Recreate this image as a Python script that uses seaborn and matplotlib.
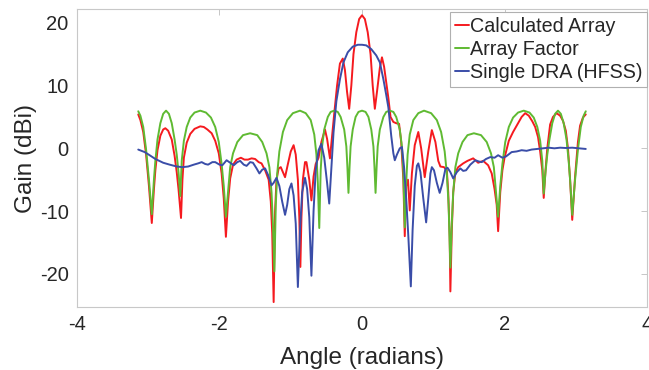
import numpy as np
import pandas as pd
import matplotlib
matplotlib.use("Agg")
import matplotlib.pyplot as plt
import seaborn as sns

# Array factor (green)
angle_af = [-3.14, -3.11, -3.07, -3.03, -2.99, -2.95,
            -2.92, -2.90, -2.87, -2.83, -2.79, -2.75, -2.71, -2.67, -2.63, -2.60, -2.575, -2.55,
            -2.53, -2.50, -2.46, -2.41, -2.35, -2.27, -2.19, -2.12, -2.06, -2.01, -1.97, -1.94, -1.91,
            -1.88, -1.85, -1.81, -1.75, -1.67, -1.57, -1.47, -1.40, -1.34, -1.30, -1.27, -1.25, -1.23,
            -1.21, -1.19, -1.16, -1.11, -1.05, -0.97, -0.87, -0.79, -0.72, -0.67, -0.64, -0.62, -0.60,
            -0.58, -0.56, -0.53, -0.48, -0.44, -0.39, -0.34, -0.30, -0.25, -0.22, -0.205, -0.19,
            -0.175, -0.16, -0.13, -0.09, -0.05, 0.0, 0.05, 0.09, 0.13, 0.16, 0.175, 0.19,
            0.205, 0.22, 0.25, 0.30, 0.34, 0.39, 0.44, 0.48, 0.53, 0.56, 0.58, 0.60,
            0.62, 0.64, 0.67, 0.72, 0.79, 0.87, 0.97, 1.05, 1.11, 1.16, 1.19, 1.215, 1.24,
            1.26, 1.28, 1.31, 1.35, 1.41, 1.48, 1.57, 1.67, 1.75, 1.81, 1.85, 1.88, 1.91,
            1.94, 1.97, 2.01, 2.06, 2.12, 2.19, 2.27, 2.35, 2.41, 2.46, 2.50, 2.53, 2.55,
            2.575, 2.60, 2.63, 2.67, 2.71, 2.75, 2.79, 2.83, 2.87, 2.90, 2.92, 2.95,
            2.99, 3.03, 3.07, 3.11, 3.14]
gain_af = [5.9, 5.2, 3.4, -0.2, -5.0, -10.5,
           -5.0, -2.0, 1.4, 4.0, 5.5, 6.0, 5.5, 4.0, 1.4, -1.0, -3.8, -7.6,
           -2.0, 1.2, 3.4, 4.9, 5.7, 6.0, 5.7, 4.9, 3.4, 1.0, -2.5, -6.0, -10.9,
           -7.0, -3.0, -0.8, 1.0, 2.1, 2.4, 2.1, 1.0, -0.8, -3.0, -7.0, -12.0, -19.6,
           -9.0, -4.0, -0.5, 2.6, 4.5, 5.6, 6.0, 5.6, 4.5, 2.2, -1.0, -5.5, -12.7,
           -3.5, 0.3, 3.0, 5.0, 5.8, 6.0, 5.8, 5.0, 3.0, 0.3, -3.0, -7.1,
           -3.0, 0.3, 3.0, 5.0, 5.8, 6.0, 5.8, 5.0, 3.0, 0.3, -3.0, -7.1,
           -3.0, 0.3, 3.0, 5.0, 5.8, 6.0, 5.8, 5.0, 3.0, 0.3, -3.5, -12.6,
           -5.5, -1.0, 2.2, 4.5, 5.6, 6.0, 5.6, 4.5, 2.6, -0.5, -4.0, -9.0, -19.0,
           -12.0, -7.0, -3.0, -0.8, 1.0, 2.1, 2.4, 2.1, 1.0, -0.8, -3.0, -7.0, -10.9,
           -6.0, -2.5, 1.0, 3.4, 4.9, 5.7, 6.0, 5.7, 4.9, 3.4, 1.2, -2.0, -7.2,
           -3.8, -1.0, 1.4, 4.0, 5.5, 6.0, 5.5, 4.0, 1.4, -2.0, -5.0, -10.6,
           -5.0, -0.2, 3.4, 5.2, 5.9]

# Calculated array (red)
angle_arr = [-3.14, -3.11, -3.07, -3.03, -2.99, -2.95,
             -2.92, -2.90, -2.87, -2.83, -2.79, -2.76, -2.72, -2.67, -2.63, -2.60, -2.575, -2.54,
             -2.52, -2.50, -2.46, -2.41, -2.35, -2.27, -2.22, -2.17, -2.11, -2.06, -2.01, -1.97, -1.94, -1.91,
             -1.88, -1.85, -1.81, -1.76, -1.70, -1.65, -1.60, -1.55, -1.50, -1.45, -1.41, -1.36, -1.31,
             -1.28, -1.26, -1.24,
             -1.22, -1.20, -1.17, -1.14, -1.11, -1.08, -1.04, -1.00, -0.96, -0.93, -0.90, -0.88, -0.865,
             -0.85, -0.83, -0.80, -0.78, -0.74, -0.71, -0.68, -0.65, -0.61, -0.57, -0.52, -0.49, -0.45,
             -0.42, -0.39, -0.35, -0.31, -0.27, -0.24, -0.21, -0.18,
             -0.15, -0.12, -0.08, -0.04, 0.0, 0.04, 0.08, 0.12, 0.15, 0.18,
             0.21, 0.25, 0.28, 0.31, 0.34, 0.37, 0.40, 0.44, 0.48, 0.52, 0.55, 0.58, 0.60,
             0.62, 0.645, 0.67, 0.70, 0.74, 0.79, 0.83, 0.88, 0.93, 0.98, 1.03, 1.07, 1.10, 1.15, 1.19,
             1.21, 1.23, 1.24, 1.26, 1.28, 1.31, 1.35, 1.42, 1.48, 1.56, 1.63, 1.70, 1.77, 1.82, 1.86,
             1.89, 1.91, 1.94, 1.97, 2.00, 2.06, 2.12, 2.18, 2.24, 2.29, 2.34, 2.39, 2.43, 2.47, 2.50,
             2.53, 2.55, 2.575, 2.60, 2.64, 2.68, 2.73, 2.78, 2.82, 2.86, 2.89, 2.92, 2.95,
             2.99, 3.03, 3.06, 3.10, 3.14]
gain_arr = [5.4, 4.5, 2.6, -1.0, -6.0, -11.9,
            -6.5, -3.5, -0.3, 2.0, 3.0, 3.2, 2.8, 1.4, -1.2, -3.8, -6.5, -11.1,
            -5.0, -1.5, 0.9, 2.3, 3.1, 3.5, 3.4, 3.0, 2.4, 1.2, -0.8, -4.0, -8.0, -14.1,
            -8.5, -4.8, -2.6, -1.8, -1.5, -1.8, -1.8, -1.6, -1.7, -2.2, -2.4, -3.5, -5.0,
            -8.5, -13.5, -24.5,
            -10.0, -5.0, -3.2, -3.0, -3.8, -4.6, -2.5, -0.5, 0.5, -1.0, -5.0, -11.0, -18.9,
            -11.0, -5.0, -2.2, -2.2, -5.0, -8.3, -4.5, -2.5, -1.5, 1.0, 3.0, 1.5, -1.6,
            2.0, 5.5, 10.0, 13.5, 14.3, 12.5, 9.0, 6.3,
            10.0, 15.0, 18.5, 20.6, 21.2, 20.6, 18.5, 15.0, 10.0, 6.3,
            9.0, 12.8, 14.5, 13.0, 10.5, 8.0, 5.0, 4.2, 4.0, 3.9, 1.0, -5.0, -14.0,
            -6.0, -5.0, -9.9, -4.0, 0.5, 2.6, 0.0, -4.6, -0.5, 2.9, 1.0, -2.0, -2.9, -3.0, -3.5,
            -7.0, -14.0, -22.8, -13.0, -7.0, -3.8, -3.0, -2.4, -2.0, -1.6, -2.3, -2.0, -2.7, -4.0, -6.5,
            -9.0, -13.2, -7.0, -3.5, -1.5, 1.2, 2.6, 3.8, 5.0, 5.6, 5.2, 4.3, 3.4, 1.8, -0.5,
            -3.5, -7.9, -3.5, 0.0, 3.8, 5.0, 5.6, 5.2, 4.4, 2.8, 0.0, -5.0, -11.4,
            -4.5, 1.0, 3.6, 4.9, 5.4]

# Single DRA from HFSS (blue)
angle_dra = [-3.14, -3.05, -2.98, -2.90, -2.79, -2.70, -2.60, -2.52, -2.44, -2.36, -2.30, -2.25,
             -2.20, -2.16, -2.10, -2.06, -2.00, -1.96, -1.90, -1.85, -1.80, -1.75, -1.71, -1.66,
             -1.62, -1.57, -1.53, -1.48, -1.44, -1.40, -1.36, -1.32, -1.27, -1.24, -1.20, -1.16,
             -1.12, -1.08, -1.05, -1.02, -0.99, -0.96, -0.93, -0.90, -0.87, -0.84, -0.80, -0.77,
             -0.74, -0.71, -0.68, -0.65, -0.61, -0.57, -0.53, -0.49, -0.46, -0.43, -0.40, -0.36,
             -0.31, -0.26, -0.20, -0.13, -0.06, 0.0, 0.06, 0.13, 0.20, 0.25, 0.30, 0.34, 0.37,
             0.41, 0.44, 0.46, 0.49, 0.53, 0.56, 0.59, 0.62, 0.65, 0.685, 0.71, 0.74, 0.77, 0.79,
             0.82, 0.86, 0.90, 0.93, 0.96, 0.98, 1.01, 1.05, 1.09, 1.13, 1.17, 1.20, 1.24, 1.28,
             1.33, 1.38, 1.42, 1.46, 1.52, 1.59, 1.64, 1.68, 1.74, 1.80, 1.86, 1.91, 1.97, 2.02,
             2.10, 2.17, 2.24, 2.31, 2.38, 2.46, 2.54, 2.62, 2.70, 2.78, 2.86, 2.95, 3.04, 3.14]
gain_dra = [-0.2, -0.6, -1.1, -1.7, -2.3, -2.6, -2.9, -3.0, -2.9, -2.6, -2.4, -2.2,
            -2.5, -2.6, -2.2, -2.2, -2.6, -2.7, -1.9, -2.3, -2.7, -2.2, -2.0, -2.6,
            -2.8, -2.2, -2.3, -3.2, -4.0, -3.4, -3.2, -4.2, -5.9, -5.5, -4.7, -6.0,
            -8.5, -10.6, -9.0, -6.5, -5.6, -7.5, -12.0, -22.1, -13.0, -7.0, -4.7, -6.5,
            -11.0, -20.3, -10.0, -3.5, -0.3, 0.7, -1.5, -5.5, -8.8, -3.0, 2.5, 7.5,
            11.0, 13.7, 15.3, 16.2, 16.5, 16.5, 16.4, 15.8, 14.8, 13.7, 11.0, 8.5, 6.5,
            2.0, -0.8, -1.9, -1.0, 0.0, 0.2, -3.0, -8.0, -14.0, -22.0, -13.0, -6.0, -2.8, -2.4,
            -3.8, -8.0, -11.8, -8.0, -4.0, -3.0, -3.5, -5.5, -7.1, -5.5, -3.3, -3.1, -3.8, -4.8,
            -3.8, -3.2, -3.6, -3.5, -2.6, -1.9, -2.1, -2.2, -1.7, -1.4, -1.5, -1.1, -1.5, -1.3,
            -0.6, -0.5, -0.3, -0.4, -0.2, -0.1, 0.0, 0.1, 0.0, 0.1, 0.05, 0.1, 0.0, -0.1]

series_names = ["Calculated Array", "Array Factor", "Single DRA (HFSS)"]
series_colors = ["#f51a1f", "#5fba32", "#3a4da8"]
xticks = [-4, -2, 0, 2, 4]
yticks = [-20, -10, 0, 10, 20]

df = pd.concat([
    pd.DataFrame({"angle": angle_arr, "gain": gain_arr, "series": series_names[0]}),
    pd.DataFrame({"angle": angle_af, "gain": gain_af, "series": series_names[1]}),
    pd.DataFrame({"angle": angle_dra, "gain": gain_dra, "series": series_names[2]}),
], ignore_index=True)

sns.set_style("white")
plt.rcParams["font.family"] = ["Liberation Sans", "DejaVu Sans"]
plt.rcParams["axes.unicode_minus"] = False

fig, ax = plt.subplots(figsize=(6.49, 3.70), dpi=100)
fig.subplots_adjust(left=0.1186, right=0.997, bottom=0.170, top=0.9757)

for name, color in zip(series_names, series_colors):
    sub = df[df["series"] == name]
    sns.lineplot(data=sub, x="angle", y="gain", color=color, linewidth=1.4,
                 label=name, estimator=None, sort=False, ax=ax)

ax.set_xlim(-4, 4)
ax.set_ylim(-25.3, 22.2)
ax.set_xticks(xticks)
ax.set_yticks(yticks)
ax.set_xlabel("Angle (radians)", fontsize=17.5, labelpad=9)
ax.set_ylabel("Gain (dBi)", fontsize=17.5, labelpad=2)
ax.tick_params(axis="both", labelsize=14.5, direction="in", length=4, width=0.6,
               color="#bdbdbd", top=True, right=True, pad=6)
for sp in ax.spines.values():
    sp.set_color("#c8c8c8")
    sp.set_linewidth(0.8)

leg = ax.legend(loc="upper right", bbox_to_anchor=(1.0, 0.99), fontsize=14.2,
                handlelength=0.7, handletextpad=0.05, labelspacing=0.2,
                borderpad=0.25, borderaxespad=0.0, fancybox=False, framealpha=1)
leg.get_frame().set_edgecolor("#b0b0b0")
leg.get_frame().set_linewidth(0.8)

plt.savefig("out.png", dpi=100)
